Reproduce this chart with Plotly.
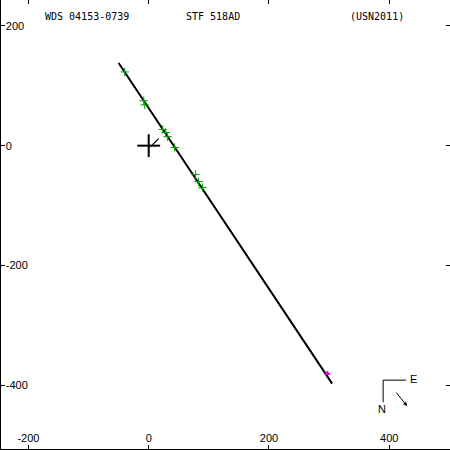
import plotly.graph_objects as go

# ---- data ----
title_left = "WDS 04153-0739"
title_mid = "STF 518AD"
title_right = "(USN2011)"

orbit_x = [-50, 305]
orbit_y = [138, -397]

obs_x = [-39.8, -8.3, -6.6, 23.2, 28.2, 31.5, 43.2, 78.0, 83.0, 89.6]
obs_y = [123, 75, 68, 27, 22, 15, -3, -48, -60, -70]
# predicted positions on the orbit line (for O-C segments)
fit_x = [-40.5, -8.8, -6.9, 22.4, 27.6, 31.0, 43.9, 77.2, 82.6, 89.0]
fit_y = [123.0, 75.3, 72.4, 28.4, 20.5, 15.4, -4.1, -54.3, -62.4, -71.9]

sat_x = [297]
sat_y = [-380]

primary = (0, 0)
cross_half = 19
node_x = [3, 16.6]
node_y = [-1.7, 11.7]

x_ticks = [-200, 0, 200, 400]
x_ticktext = ["-200", "0", "200", "400"]
y_ticks = [200, 0, -200, -400]
y_ticktext = ["200", "0", "-200", "-400"]

x_range = [-245.6, 501]
y_range = [-506, 243]

font_mono = "DejaVu Sans Mono, Liberation Mono, monospace"
font_tick = "Liberation Sans, DejaVu Sans, sans-serif"

fig = go.Figure()

# orbit line
fig.add_trace(go.Scatter(x=orbit_x, y=orbit_y, mode="lines",
                         line=dict(color="black", width=2), hoverinfo="skip"))

# O-C segments
seg_x, seg_y = [], []
for ox, oy, fx, fy in zip(obs_x, obs_y, fit_x, fit_y):
    seg_x += [ox, fx, None]
    seg_y += [oy, fy, None]
fig.add_trace(go.Scatter(x=seg_x, y=seg_y, mode="lines",
                         line=dict(color="#00a000", width=1), hoverinfo="skip"))
fig.add_trace(go.Scatter(x=obs_x, y=obs_y, mode="markers",
                         marker=dict(symbol="cross-thin", size=6,
                                     line=dict(color="#00a000", width=1)),
                         hoverinfo="skip"))
# magenta point
fig.add_trace(go.Scatter(x=sat_x, y=sat_y, mode="markers",
                         marker=dict(symbol="triangle-up", size=6, color="#e000e0"),
                         hoverinfo="skip"))

# primary cross
px0, py0 = primary
fig.add_trace(go.Scatter(x=[px0 - cross_half, px0 + cross_half, None, px0, px0],
                         y=[py0, py0, None, py0 - cross_half * 1.0, py0 + cross_half * 1.0],
                         mode="lines", line=dict(color="black", width=2),
                         hoverinfo="skip"))
fig.add_trace(go.Scatter(x=node_x, y=node_y, mode="lines",
                         line=dict(color="black", width=1.2), hoverinfo="skip"))

# dummy traces for top/right axes
fig.add_trace(go.Scatter(x=[None], y=[None], xaxis="x2", yaxis="y2", showlegend=False))

axis_common = dict(showgrid=False, zeroline=False, ticks="inside", ticklen=4,
                   tickwidth=1, tickcolor="black", fixedrange=True)

fig.update_layout(
    width=450, height=450,
    margin=dict(l=1, r=0, t=0, b=1),
    paper_bgcolor="white", plot_bgcolor="white",
    showlegend=False,
    xaxis=dict(range=x_range, tickvals=x_ticks, ticktext=x_ticktext,
               ticklabelposition="inside", showline=True, linecolor="black",
               linewidth=2, tickfont=dict(family=font_tick, size=11, color="black"),
               **axis_common),
    yaxis=dict(range=y_range, tickvals=y_ticks, ticktext=y_ticktext,
               ticklabelposition="inside", showline=True, linecolor="black",
               linewidth=2, tickfont=dict(family=font_tick, size=11, color="black"),
               **axis_common),
    xaxis2=dict(range=x_range, tickvals=x_ticks, overlaying="x", side="top",
                showticklabels=False, showline=False, **axis_common),
    yaxis2=dict(range=y_range, tickvals=y_ticks, overlaying="y", side="right",
                showticklabels=False, showline=False, **axis_common),
)

# titles
for txt, xp in [(title_left, 86 / 450), (title_mid, 212 / 450), (title_right, 377 / 450)]:
    fig.add_annotation(text=txt, x=xp, y=1 - 17 / 450, xref="paper", yref="paper",
                       showarrow=False, xanchor="center", yanchor="middle",
                       font=dict(family=font_mono, size=10, color="black"))

# compass
fig.add_shape(type="path", xref="paper", yref="paper",
              path=f"M {406/450} {1-381/450} L {383/450} {1-381/450} L {383/450} {1-403/450}",
              line=dict(color="black", width=1))
fig.add_annotation(text="E", x=413 / 450, y=1 - 380 / 450, xref="paper", yref="paper",
                   showarrow=False, xanchor="center", yanchor="middle",
                   font=dict(family=font_tick, size=11, color="black"))
fig.add_annotation(text="N", x=382 / 450, y=1 - 410 / 450, xref="paper", yref="paper",
                   showarrow=False, xanchor="center", yanchor="middle",
                   font=dict(family=font_tick, size=11, color="black"))
fig.add_annotation(x=407 / 450, y=1 - 407 / 450, ax=-12, ay=-15,
                   xref="paper", yref="paper",
                   text="", showarrow=True, arrowhead=2, arrowsize=0.8,
                   arrowwidth=1, arrowcolor="black")

fig.write_html("out.html", config={"displayModeBar": False, "staticPlot": True},
               post_script="document.body.style.margin='0px';")
